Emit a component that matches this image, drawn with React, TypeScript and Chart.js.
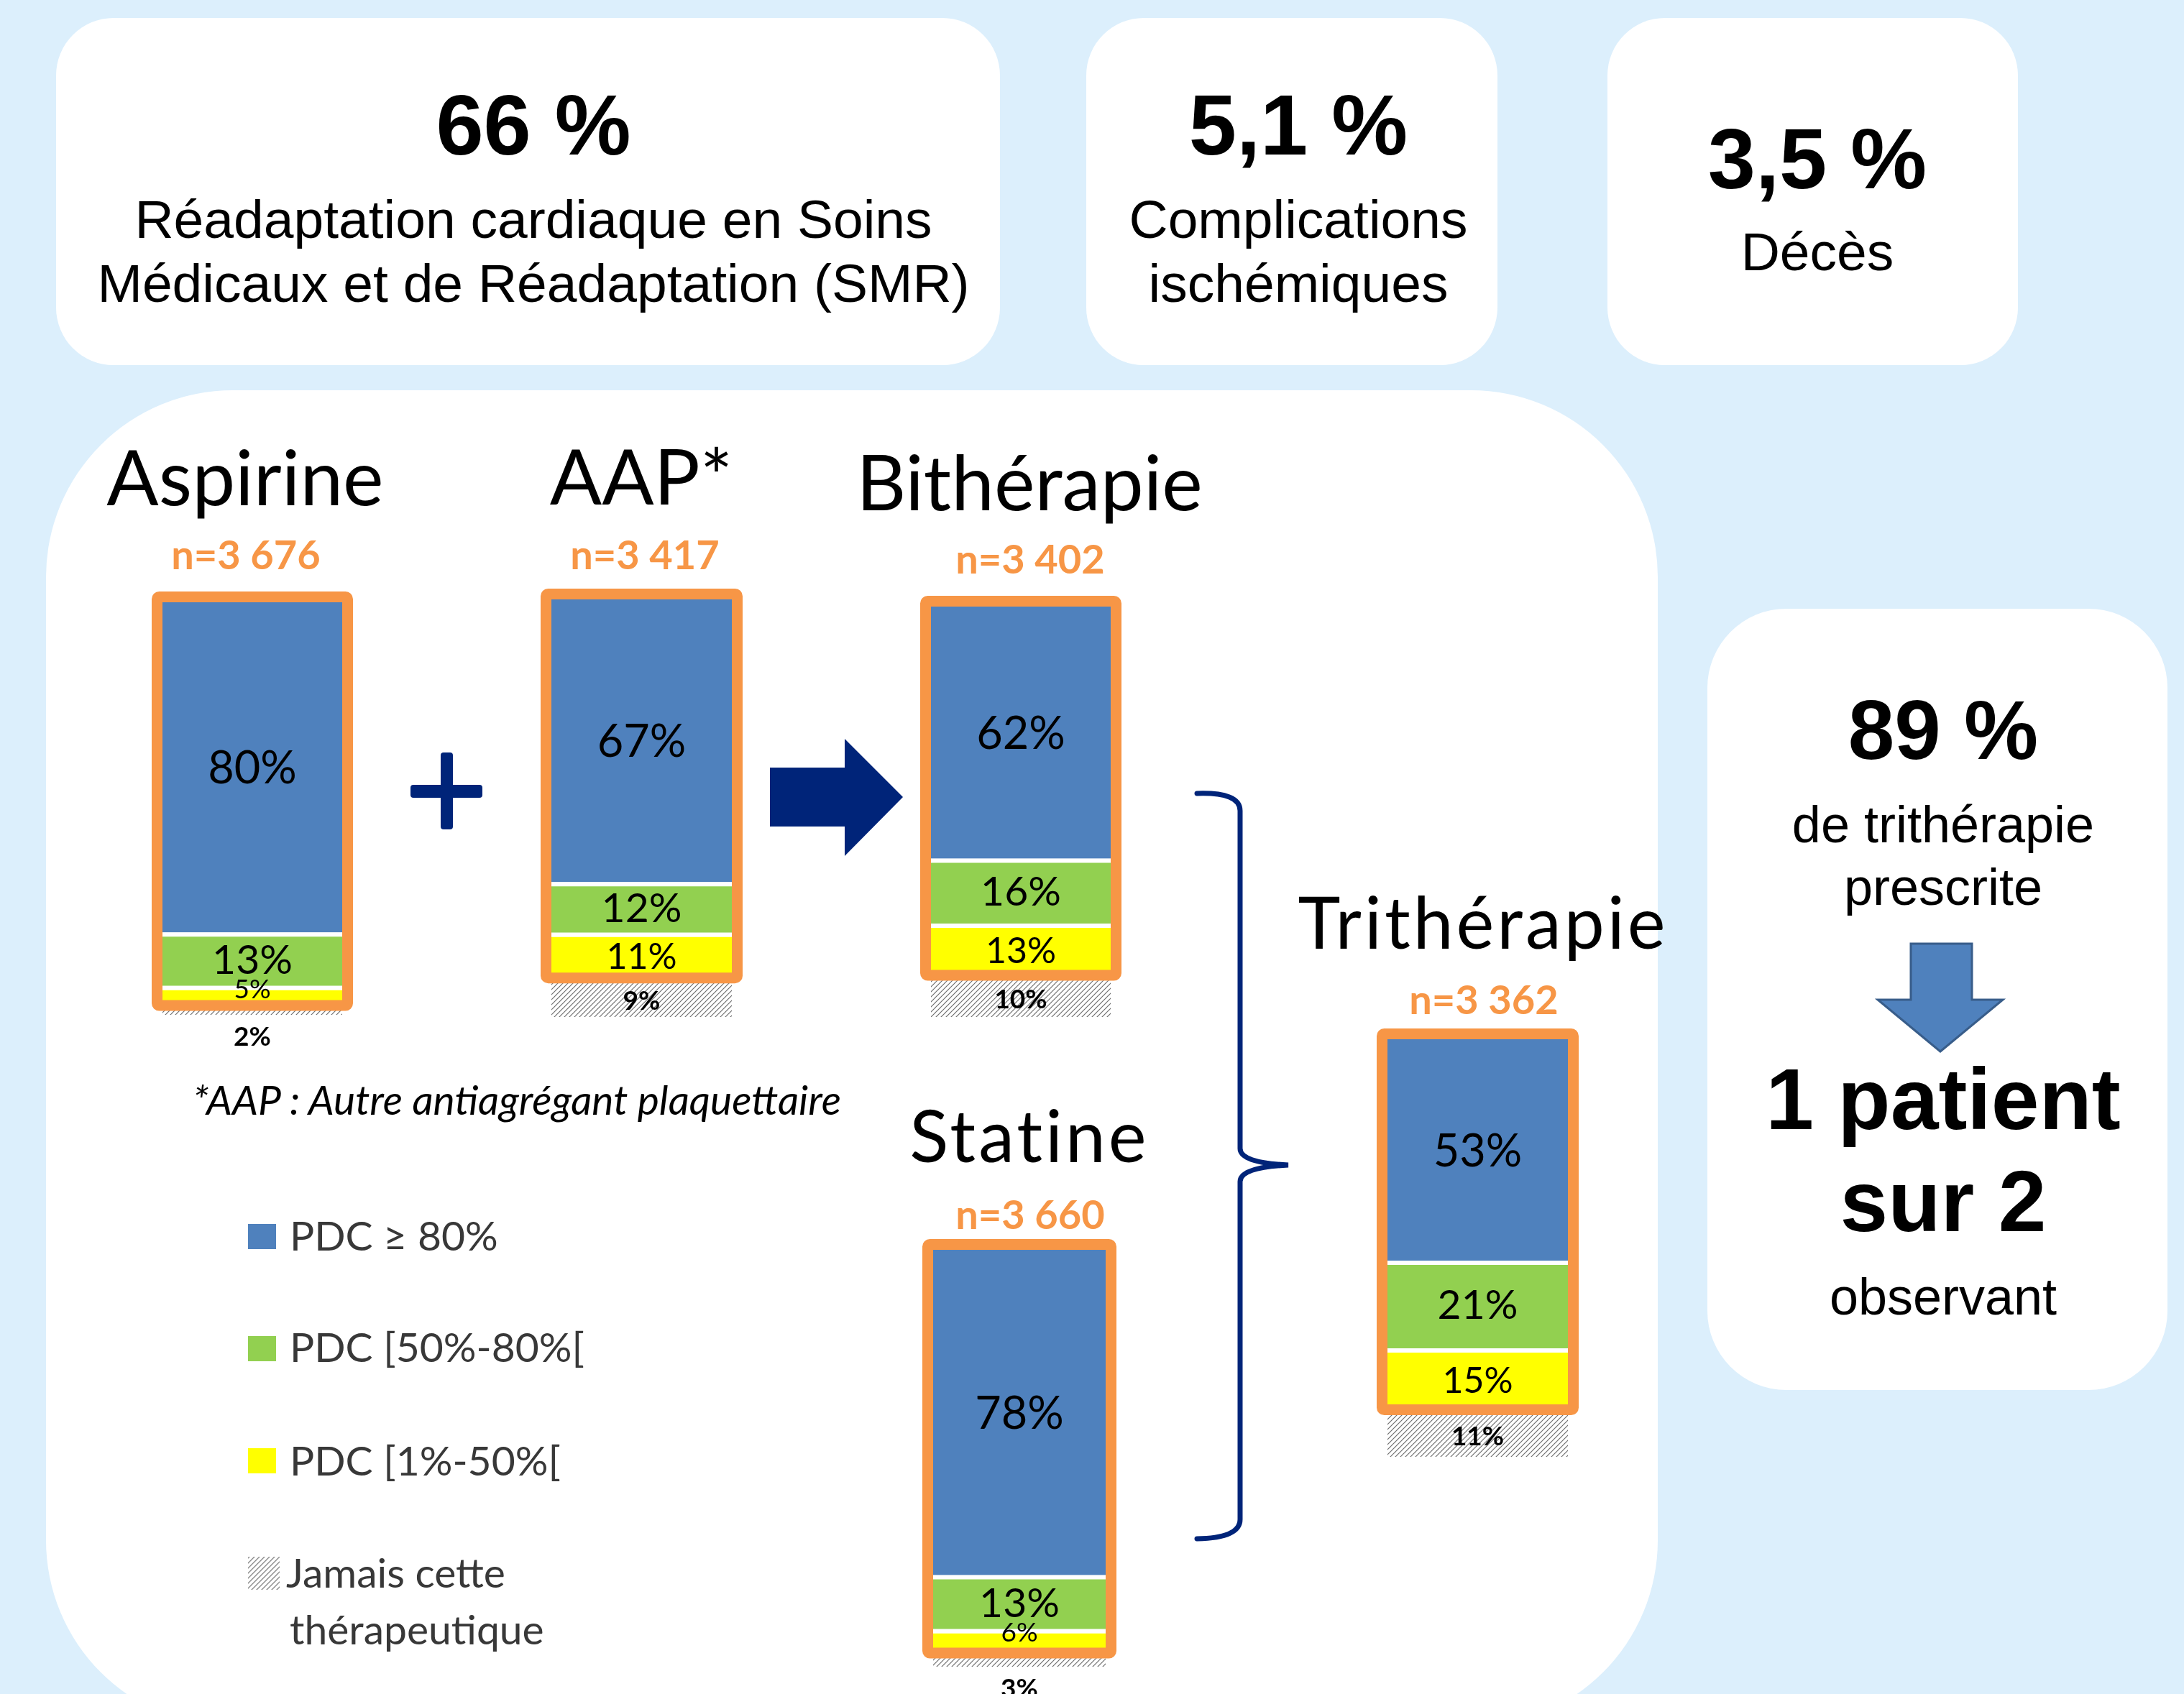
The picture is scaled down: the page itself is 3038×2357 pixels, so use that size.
import React, { useEffect, useRef } from "react";
import { Chart, registerables } from "chart.js";

Chart.register(...registerables);

// ---------------- DATA ----------------
const legendLabels = ["PDC ≥ 80%", "PDC [50%-80%[", "PDC [1%-50%[", "Jamais cette thérapeutique"];
const therapies = ["Aspirine", "AAP*", "Bithérapie", "Statine", "Trithérapie"];
const sampleSizes = ["n=3 676", "n=3 417", "n=3 402", "n=3 660", "n=3 362"];
const pdcHigh = [80, 67, 62, 78, 53];
const pdcMid = [13, 12, 16, 13, 21];
const pdcLow = [5, 11, 13, 6, 15];
const pdcNever = [2, 9, 10, 3, 11];

const kpiValues = ["66 %", "5,1 %", "3,5 %"];
const kpiLabels = [
  ["Réadaptation cardiaque en Soins", "Médicaux et de Réadaptation (SMR)"],
  ["Complications", "ischémiques"],
  ["Décès"],
];
const sideValue = "89 %";
const sideLines = ["de trithérapie", "prescrite"];
const sideResult = ["1 patient", "sur 2"];
const sideResultSub = "observant";
const footnote = "*AAP : Autre antiagrégant plaquettaire";

// ---------------- STYLE / LAYOUT ----------------
const BG = "#DCEFFC";
const BLUE = "#4F81BD";
const GREEN = "#92D050";
const YELLOW = "#FFFF00";
const ORANGE = "#F79646";
const NAVY = "#002479";
const SANS = "'Liberation Sans', Arial, Helvetica, sans-serif";
const HUM = "Lato, 'Open Sans', sans-serif";

const barBoxes = [
  { x: 226, y: 838, w: 250, h: 574 },
  { x: 767, y: 834, w: 251, h: 581 },
  { x: 1295, y: 844, w: 250, h: 571 },
  { x: 1298, y: 1739, w: 240, h: 580 },
  { x: 1930, y: 1446, w: 251, h: 581 },
];
const titlePos = [
  [341, 703],
  [892, 702],
  [1432, 710],
  [1432, 1617],
  [2063, 1320],
];
const titleSize = [107, 107, 107, 100, 100];
const titleSpacing = [0, 0, 0, 4, 4];
const nPos = [
  [342, 792],
  [897, 792],
  [1433, 798],
  [1433, 1710],
  [2064, 1411],
];

const PAD = 40;
const PADB = 70;
const BORDER = 15;

function makeHatch(ctx: CanvasRenderingContext2D) {
  const c = document.createElement("canvas");
  c.width = 7;
  c.height = 7;
  const g = c.getContext("2d")!;
  g.fillStyle = "#fff";
  g.fillRect(0, 0, 7, 7);
  g.strokeStyle = "#6E6E6E";
  g.lineWidth = 1.2;
  g.beginPath();
  g.moveTo(0, 7);
  g.lineTo(7, 0);
  g.moveTo(-1, 1);
  g.lineTo(1, -1);
  g.moveTo(6, 8);
  g.lineTo(8, 6);
  g.stroke();
  return ctx.createPattern(c, "repeat") as CanvasPattern;
}

const outlinePlugin = {
  id: "orangeOutline",
  afterDatasetsDraw(chart: any) {
    const ctx = chart.ctx;
    const neverEl = chart.getDatasetMeta(0).data[0];
    const topEl = chart.getDatasetMeta(3).data[0];
    const half = neverEl.width / 2;
    const xL = neverEl.x - half - BORDER;
    const xR = neverEl.x + half + BORDER;
    const yT = topEl.y - BORDER;
    const yB = neverEl.y + 6;
    ctx.save();
    ctx.strokeStyle = ORANGE;
    ctx.lineWidth = BORDER;
    ctx.lineJoin = "round";
    ctx.beginPath();
    (ctx as any).roundRect(xL + BORDER / 2, yT + BORDER / 2, xR - xL - BORDER, yB - yT - BORDER, 3);
    ctx.stroke();
    ctx.restore();
  },
};

const labelPlugin = {
  id: "segLabels",
  afterDraw(chart: any) {
    const ctx = chart.ctx;
    ctx.save();
    ctx.textAlign = "center";
    ctx.textBaseline = "alphabetic";
    ctx.fillStyle = "#000";
    const sizes = [37, 50, 57, 63];
    chart.data.datasets.forEach((ds: any, i: number) => {
      const el = chart.getDatasetMeta(i).data[0];
      const v = ds.data[0];
      const top = el.y;
      const bottom = el.base;
      const txt = v + "%";
      if (i === 0) {
        ctx.font = `bold ${sizes[0]}px ${HUM}`;
        if (v >= 5) {
          const vt = top + 6;
          const cy = (vt + bottom) / 2;
          ctx.fillText(txt, el.x, cy + 0.36 * sizes[0]);
        } else {
          ctx.fillText(txt, el.x, bottom + 30 + 0.36 * sizes[0]);
        }
      } else if (i === 1 && v < 8) {
        ctx.font = `37px ${HUM}`;
        ctx.fillText(txt, el.x, top + 4 + 0.36 * 37);
      } else {
        const s = sizes[i];
        ctx.font = `${s}px ${HUM}`;
        const cy = (top + bottom) / 2;
        ctx.fillText(txt, el.x, cy + 0.36 * s);
      }
    });
    ctx.restore();
  },
};

function StackBar({ idx }: { idx: number }) {
  const ref = useRef<HTMLCanvasElement>(null);
  const box = barBoxes[idx];
  useEffect(() => {
    const canvas = ref.current!;
    const ctx = canvas.getContext("2d")!;
    const hatch = makeHatch(ctx);
    const total = pdcNever[idx] + pdcLow[idx] + pdcMid[idx] + pdcHigh[idx];
    const sep = { top: 6, bottom: 0, left: 0, right: 0 };
    const chart = new Chart(canvas, {
      type: "bar",
      data: {
        labels: [therapies[idx]],
        datasets: [
          { label: legendLabels[3], data: [pdcNever[idx]], backgroundColor: hatch as any, borderWidth: 0 },
          { label: legendLabels[2], data: [pdcLow[idx]], backgroundColor: YELLOW, borderColor: "#fff", borderWidth: sep as any, borderSkipped: false as any },
          { label: legendLabels[1], data: [pdcMid[idx]], backgroundColor: GREEN, borderColor: "#fff", borderWidth: sep as any, borderSkipped: false as any },
          { label: legendLabels[0], data: [pdcHigh[idx]], backgroundColor: BLUE, borderWidth: 0 },
        ],
      },
      options: {
        responsive: false,
        animation: false,
        events: [],
        layout: { padding: { left: PAD, right: PAD, top: PAD, bottom: PADB } },
        plugins: { legend: { display: false }, tooltip: { enabled: false } },
        datasets: { bar: { barPercentage: 1, categoryPercentage: 1, inflateAmount: 0 } as any },
        scales: {
          x: { stacked: true, display: false },
          y: { stacked: true, display: false, min: 0, max: total },
        },
      },
      plugins: [outlinePlugin, labelPlugin],
    });
    return () => chart.destroy();
  }, [idx]);
  return (
    <canvas
      ref={ref}
      width={box.w + 2 * PAD}
      height={box.h + PAD + PADB}
      style={{ position: "absolute", left: box.x - PAD, top: box.y - PAD }}
    />
  );
}

export default function App() {
  const legendColors = [BLUE, GREEN, YELLOW, "url(#hatchLeg)"];
  const legendY = [1703, 1859, 2015, 2166];
  const legendBase = [1740, 1895, 2053, 2209];
  const neverParts = legendLabels[3].split(" ");
  return (
    <div
      style={{
        position: "fixed",
        left: 0,
        top: 0,
        width: 3038,
        height: 2357,
        overflow: "hidden",
        background: BG,
      }}
    >
      <svg width={3038} height={2357} style={{ position: "absolute", left: 0, top: 0 }}>
        <defs>
          <pattern id="hatchLeg" width="7" height="7" patternUnits="userSpaceOnUse">
            <rect width="7" height="7" fill="#fff" />
            <path d="M0,7 L7,0 M-1,1 L1,-1 M6,8 L8,6" stroke="#888" strokeWidth="1.3" />
          </pattern>
        </defs>
        {/* white panels */}
        <rect x={78} y={25} width={1313} height={483} rx={80} ry={80} fill="#fff" />
        <rect x={1511} y={25} width={572} height={483} rx={80} ry={80} fill="#fff" />
        <rect x={2236} y={25} width={571} height={483} rx={80} ry={80} fill="#fff" />
        <rect x={64} y={543} width={2242} height={1860} rx={260} ry={260} fill="#fff" />
        <rect x={2375} y={847} width={640} height={1087} rx={110} ry={110} fill="#fff" />

        {/* KPI boxes */}
        <g fontFamily={SANS} textAnchor="middle" fill="#000">
          <text x={742} y={215} fontSize={119} fontWeight="bold">{kpiValues[0]}</text>
          <text x={742} y={331} fontSize={75}>{kpiLabels[0][0]}</text>
          <text x={742} y={420} fontSize={75}>{kpiLabels[0][1]}</text>
          <text x={1806} y={215} fontSize={119} fontWeight="bold">{kpiValues[1]}</text>
          <text x={1806} y={331} fontSize={75}>{kpiLabels[1][0]}</text>
          <text x={1806} y={420} fontSize={75}>{kpiLabels[1][1]}</text>
          <text x={2528} y={262} fontSize={119} fontWeight="bold">{kpiValues[2]}</text>
          <text x={2528} y={376} fontSize={75}>{kpiLabels[2][0]}</text>

          <text x={2703} y={1056} fontSize={116} fontWeight="bold">{sideValue}</text>
          <text x={2703} y={1172} fontSize={72}>{sideLines[0]}</text>
          <text x={2703} y={1259} fontSize={72}>{sideLines[1]}</text>
          <text x={2703} y={1571} fontSize={120} fontWeight="bold">{sideResult[0]}</text>
          <text x={2703} y={1713} fontSize={120} fontWeight="bold">{sideResult[1]}</text>
          <text x={2703} y={1829} fontSize={72}>{sideResultSub}</text>
        </g>
        {/* down arrow */}
        <polygon
          points="2658,1313 2743,1313 2743,1391 2786,1391 2699,1463 2612,1391 2658,1391"
          fill={BLUE}
          stroke="#385D8A"
          strokeWidth={3}
        />

        {/* titles and n= */}
        <g fontFamily={HUM} textAnchor="middle">
          {therapies.map((t, i) => (
            <text key={t} x={titlePos[i][0]} y={titlePos[i][1]} fontSize={titleSize[i]} fill="#000" style={{ letterSpacing: titleSpacing[i] }}>
              {t}
            </text>
          ))}
          {sampleSizes.map((n, i) => (
            <text key={n} x={nPos[i][0]} y={nPos[i][1]} fontSize={56} fontWeight="bold" fill={ORANGE}>
              {n}
            </text>
          ))}
        </g>

        {/* plus sign */}
        <rect x={571} y={1092} width={100} height={18} rx={4} fill={NAVY} />
        <rect x={613} y={1047} width={17} height={107} rx={4} fill={NAVY} />
        {/* right arrow */}
        <polygon points="1071,1068 1175,1068 1175,1028 1256,1109 1175,1191 1175,1150 1071,1150" fill={NAVY} />
        {/* brace */}
        <path
          d="M1665,1104 Q1725,1102 1725,1128 L1725,1598 Q1725,1618 1792,1621 Q1725,1624 1725,1644 L1725,2114 Q1725,2140 1665,2141"
          stroke={NAVY}
          strokeWidth={7}
          fill="none"
          strokeLinecap="round"
        />

        {/* footnote */}
        <text x={268} y={1551} fontFamily={HUM} fontStyle="italic" fontSize={57} fill="#000">
          {footnote}
        </text>

        {/* legend */}
        <g fontFamily={HUM} fontSize={57} fill="#383838">
          {legendLabels.map((lab, i) => (
            <g key={lab}>
              <rect x={345} y={legendY[i]} width={i === 3 ? 44 : 39} height={i === 3 ? 46 : 35} fill={legendColors[i]} />
              {i < 3 ? (
                <text x={403} y={legendBase[i]}>{lab}</text>
              ) : (
                <>
                  <text x={398} y={legendBase[i]}>{neverParts.slice(0, 2).join(" ")}</text>
                  <text x={403} y={legendBase[i] + 79}>{neverParts.slice(2).join(" ")}</text>
                </>
              )}
            </g>
          ))}
        </g>
      </svg>
      {therapies.map((t, i) => (
        <StackBar key={t} idx={i} />
      ))}
    </div>
  );
}
